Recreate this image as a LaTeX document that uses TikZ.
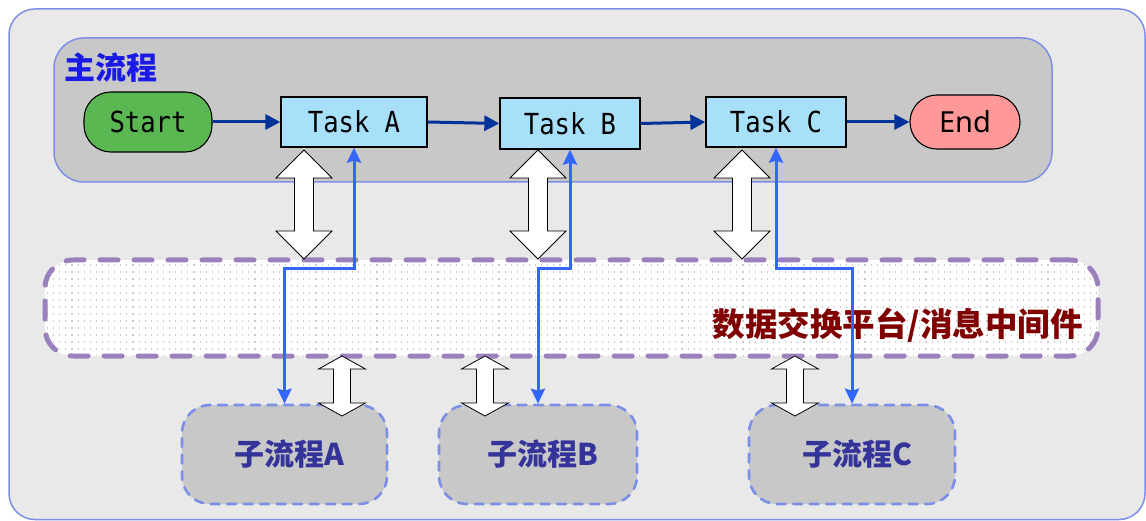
\documentclass[tikz,border=0pt]{standalone}
\usepackage{fontspec}
\newfontfamily\cjk{Noto Sans CJK SC}
\newfontfamily\monof[FakeStretch=0.88]{DejaVu Sans Mono}
\newfontfamily\sansf{Noto Sans}
\usetikzlibrary{arrows.meta,calc}
\definecolor{outerfill}{HTML}{E9E9E9}
\definecolor{frameblue}{HTML}{7B8FE6}
\definecolor{boxgray}{HTML}{C8C8C8}
\definecolor{titleblue}{HTML}{1A1AE6}
\definecolor{startgreen}{HTML}{5AB752}
\definecolor{taskblue}{HTML}{A8E0FA}
\definecolor{endred}{HTML}{FF9999}
\definecolor{flowblue}{HTML}{003399}
\definecolor{linkblue}{HTML}{3366FF}
\definecolor{mwpurple}{HTML}{9B80BB}
\definecolor{mwred}{HTML}{800000}
\definecolor{subtext}{HTML}{333399}
\newcommand\blockdbl[6]{% x, ytop, ybot, head width, shaft width, head length
  \draw[blockarrow] (#1,#2) -- ({#1+#4/2},{#2+#6}) -- ({#1+#5/2},{#2+#6})
    -- ({#1+#5/2},{#3-#6}) -- ({#1+#4/2},{#3-#6}) -- (#1,#3)
    -- ({#1-#4/2},{#3-#6}) -- ({#1-#5/2},{#3-#6}) -- ({#1-#5/2},{#2+#6})
    -- ({#1-#4/2},{#2+#6}) -- cycle;}
\begin{document}
\begin{tikzpicture}[x=1pt,y=-1pt,
  outerbox/.style={draw=frameblue,line width=1.5pt,fill=outerfill,rounded corners=26pt},
  mainbox/.style={draw=frameblue,line width=1.5pt,fill=boxgray,rounded corners=30pt},
  stadium/.style={draw=black,line width=1.1pt,rounded corners=26.9pt,inner sep=0pt},
  taskbox/.style={draw=black,line width=1.3pt,fill=taskblue,minimum width=146pt,minimum height=50pt,inner sep=0pt,font=\monof\fontsize{29}{32}\selectfont},
  flow/.style={draw=flowblue,line width=3pt,-{Triangle[length=15pt,width=15pt]}},
  link/.style={draw=linkblue,line width=3pt,{Stealth[length=15pt,width=14pt,inset=2pt]}-{Stealth[length=15pt,width=14pt,inset=2pt]}},
  blockarrow/.style={draw=black,line width=0.8pt,fill=white,line join=miter},
  dotline/.style={draw=black!20,line width=1.1pt,dash pattern=on 1.1pt off 5pt},
  mwbox/.style={draw=mwpurple,line width=5pt,dash pattern=on 18pt off 16pt,line cap=round,rounded corners=28pt,minimum width=1053pt,minimum height=96pt,inner sep=0pt},
  subbox/.style={draw=frameblue,line width=2.6pt,dash pattern=on 9pt off 7.5pt,line cap=round,fill=boxgray,rounded corners=28pt,minimum height=99pt,inner sep=0pt,text=subtext,font=\cjk\bfseries\fontsize{30}{34}\selectfont}
]
\useasboundingbox (0,0) rectangle (1146,521);
% outer frame
\draw[outerbox] (9,9) rectangle (1145,519.5);
% main process frame
\draw[mainbox] (54,38) rectangle (1052,182);
\node[anchor=west,text=titleblue,font=\cjk\bfseries\fontsize{31}{34}\selectfont,inner sep=0pt] (title) at (64,68) {主流程};
% main flow nodes
\node[stadium,fill=startgreen,minimum width=128pt,minimum height=60pt,font=\monof\fontsize{29}{32}\selectfont] (start) at (148,122) {Start};
\node[taskbox] (taskA) at (354,122) {Task A};
\node[taskbox,minimum width=140pt,minimum height=51pt] (taskB) at (570,123.5) {Task B};
\node[taskbox,minimum width=140pt] (taskC) at (776,122) {Task C};
\node[stadium,fill=endred,minimum width=110pt,minimum height=54pt,rounded corners=26.9pt,font=\sansf\fontsize{29}{32}\selectfont] (end) at (965,122) {End};
\draw[flow] (start.east) -- (taskA.west);
\draw[flow] (taskA.east) -- (taskB.west);
\draw[flow] (taskB.east) -- (taskC.west);
\draw[flow] (taskC.east) -- (end.west);
% middleware
\path[fill=white,rounded corners=28pt] (45,260) rectangle (1098,356);
\begin{scope}
  \clip[rounded corners=28pt] (45,260) rectangle (1098,356);
  \foreach \yy in {265,272,...,356} \draw[dotline] (47,\yy) -- (1098,\yy);
\end{scope}
\node[mwbox] (mw) at (571.5,308) {};
\node[anchor=east,text=mwred,font=\cjk\bfseries\fontsize{32.5}{36}\selectfont,inner sep=0pt] (mwlabel) at (1083,325) {数据交换平台/消息中间件};
% sub processes
\node[subbox,minimum width=205pt] (subA) at (284.5,454.5) {\hspace*{10pt}\raisebox{-3pt}{子流程A}};
\node[subbox,minimum width=198pt] (subB) at (538,454.5) {\hspace*{10pt}\raisebox{-3pt}{子流程B}};
\node[subbox,minimum width=206pt] (subC) at (852,454.5) {\hspace*{10pt}\raisebox{-3pt}{子流程C}};
% big double arrows task <-> middleware
\blockdbl{304}{150}{259}{56}{19}{28}
\blockdbl{538}{150}{259}{56}{19}{28}
\blockdbl{742}{150}{259}{56}{19}{28}
% small double arrows middleware <-> sub process
\blockdbl{342}{356}{416}{47}{17}{13}
\blockdbl{485}{356}{416}{47}{17}{13}
\blockdbl{795}{356}{416}{47}{17}{13}
% links
\coordinate (bus) at (0,269);
\draw[link] (taskA.south) -- (taskA.south |- bus) -| (subA.north);
\draw[link] (taskB.south) -- (taskB.south |- bus) -| (subB.north);
\draw[link] (taskC.south) -- (taskC.south |- bus) -| (subC.north);
\end{tikzpicture}
\end{document}
